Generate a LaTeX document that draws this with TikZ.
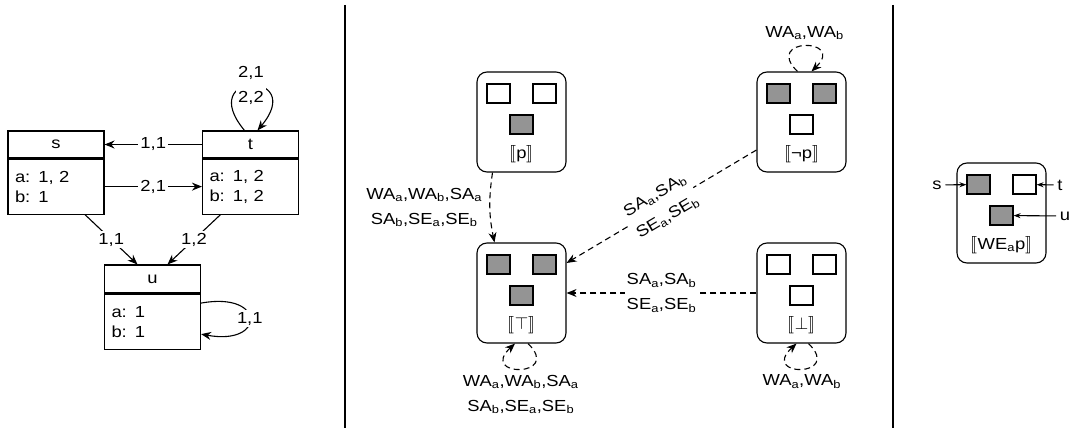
\documentclass[tikz,border=0pt]{standalone}
\usepackage{fontspec}
\setmainfont{Liberation Sans}[FakeStretch=1.15]
\usepackage{stmaryrd}
\usetikzlibrary{positioning, arrows.meta}
\definecolor{cellgray}{gray}{0.58}
\newcommand{\sem}[1]{\(\llbracket\)#1\(\rrbracket\)}
\newcommand{\worldbox}[6]{%
	\node[world] (#1) at (#2) {};
	\node[#3] (#1-tl) at ([shift={(-23,-28.5)}]#1.center) {};
	\node[#4] (#1-tr) at ([shift={(23,-28.5)}]#1.center) {};
	\node[#5] (#1-m) at ([shift={(0,2.5)}]#1.center) {};
	\node (#1-lbl) at ([shift={(0,32)}]#1.center) {#6};
}

\begin{document}
\begin{tikzpicture}[
				x=1pt, y=-1pt,
				line width=1.1pt,
				>={Stealth[length=10pt,width=8pt]},
				font=\fontsize{16}{20}\selectfont,
				classhead/.style={draw, minimum width=96pt, minimum height=27pt, inner sep=0pt},
				classbody/.style={draw, minimum width=96pt, minimum height=55pt, text width=82pt, inner xsep=7pt, align=left},
				world/.style={draw, rounded corners=10pt, minimum width=89pt, minimum height=100pt},
				cell/.style={draw, minimum width=23pt, minimum height=19pt, inner sep=0pt},
				graycell/.style={cell, fill=cellgray},
				whitecell/.style={cell, fill=white},
				edgelabel/.style={fill=white, inner sep=2pt, align=center, font=\fontsize{16}{25}\selectfont},
				trans/.style={->, dash pattern=on 6pt off 4pt},
				pointer/.style={->, >={Stealth[length=7pt,width=5pt]}}]

			\useasboundingbox (0,0) rectangle (1073,433);

			% model
			\node[classhead] (s-head) at (56,144.5) {s};
			\node[classbody, below=0pt of s-head] (s-body) {a: 1, 2\\b: 1};
			\node[classhead] (t-head) at (250.5,144.5) {t};
			\node[classbody, below=0pt of t-head] (t-body) {a: 1, 2\\b: 1, 2};
			\node[classhead, minimum height=28pt] (u-head) at (152.5,279) {u};
			\node[classbody, below=0pt of u-head] (u-body) {a: 1\\b: 1};

			\draw[->] (t-head) -- node[edgelabel]{1,1} (s-head);
			\draw[->] (s-body) -- node[edgelabel]{2,1} (t-body);
			\draw[->] ([xshift=29pt]s-body.south) -- node[edgelabel]{1,1} ([xshift=-15pt]u-head.north);
			\draw[->] ([xshift=-30pt]t-body.south) -- node[edgelabel]{1,2} ([xshift=15pt]u-head.north);
			\draw[->] ([xshift=-6pt]t-head.north) .. controls +(-50,-60) and +(50,-60) .. node[edgelabel]{2,1\\2,2} ([xshift=7pt]t-head.north);
			\draw[->] ([yshift=18.5pt]u-body.east) .. controls +(65,-12) and +(65,12) .. node[edgelabel]{1,1} ([yshift=-12.5pt]u-body.east);

			\draw (345,5) -- (345,428);
			\draw (893,5) -- (893,428);

			% abstraction
			\worldbox{p}{521.5,122}{whitecell}{whitecell}{graycell}{\sem{p}}
			\worldbox{np}{801.5,122}{graycell}{graycell}{whitecell}{\sem{¬p}}
			\worldbox{top}{521.5,293}{graycell}{graycell}{graycell}{\sem{$\top$}}
			\worldbox{bot}{801.5,293}{whitecell}{whitecell}{whitecell}{\sem{$\bot$}}

			\draw[trans] ([xshift=-29pt]p.south) to[bend right=10] node[left=4pt, align=center, font=\fontsize{16}{25}\selectfont]{WA\textsubscript{a},WA\textsubscript{b},SA\textsubscript{a}\\SA\textsubscript{b},SE\textsubscript{a},SE\textsubscript{b}} ([xshift=-27pt]top.north);
			\draw[trans] ([yshift=-28pt]np.west) -- node[edgelabel, sloped]{SA\textsubscript{a},SA\textsubscript{b}\\SE\textsubscript{a},SE\textsubscript{b}} ([yshift=30pt]top.east);
			\draw[trans] (bot.west) -- node[edgelabel]{SA\textsubscript{a},SA\textsubscript{b}\\SE\textsubscript{a},SE\textsubscript{b}} (top.east);

			\draw[trans] ([xshift=6.5pt]top.south) .. controls +(35,34) and +(-37,34) .. node[below=2pt, align=center, font=\fontsize{16}{25}\selectfont]{WA\textsubscript{a},WA\textsubscript{b},SA\textsubscript{a}\\SA\textsubscript{b},SE\textsubscript{a},SE\textsubscript{b}} ([xshift=-6.5pt]top.south);
			\draw[trans] ([xshift=7pt]bot.south) .. controls +(35,34) and +(-37,34) .. node[below=2pt]{WA\textsubscript{a},WA\textsubscript{b}} ([xshift=-5pt]bot.south);
			\draw[trans] ([xshift=-4pt]np.north) .. controls +(-35,-34) and +(35,-34) .. node[above=2pt]{WA\textsubscript{a},WA\textsubscript{b}} ([xshift=10pt]np.north);

			% formula
			\worldbox{we}{1001.5,213}{graycell}{whitecell}{graycell}{\sem{WE\textsubscript{a}p}}
			\node (lbl-s) at (937,185) {s};
			\node (lbl-t) at (1060,185) {t};
			\node (lbl-u) at (1065,216) {u};
			\draw[pointer] (lbl-s) -- (we-tl);
			\draw[pointer] (lbl-t) -- (we-tr);
			\draw[pointer] (lbl-u) -- (we-m);

		\end{tikzpicture}
\end{document}
